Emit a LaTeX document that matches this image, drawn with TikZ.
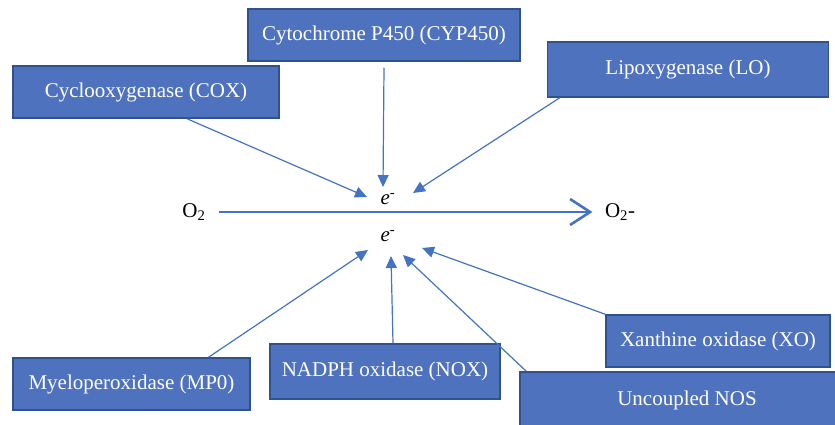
\documentclass[tikz,border=0pt]{standalone}
\usepackage{fontspec}
\setmainfont{Liberation Serif}
\usepackage{xcolor}
\usetikzlibrary{arrows.meta,positioning}

\definecolor{boxblue}{HTML}{4F72BE}
\definecolor{boxedge}{HTML}{2F528F}
\definecolor{arrowblue}{HTML}{4472C4}

\begin{document}
\begin{tikzpicture}[x=1pt,y=-1pt,
  enzyme/.style={draw=boxedge, line width=1.5pt, fill=boxblue, text=white,
    font=\fontsize{21}{25}\selectfont, inner sep=0pt},
  feed/.style={draw=arrowblue, line width=1.2pt, -{Triangle[length=12pt,width=11pt]}},
  lbl/.style={font=\fontsize{21}{25}\selectfont}]
\useasboundingbox (0,0) rectangle (835,425);

% Enzymes above
\node[enzyme, minimum width=266pt, minimum height=52pt] (cox) at (146,92) {Cyclooxygenase (COX)};
\node[enzyme, minimum width=272pt, minimum height=52pt] (cyp) at (384,35) {Cytochrome P450 (CYP450)};
\node[enzyme, minimum width=281pt, minimum height=55pt] (lo) at (688,69.5) {Lipoxygenase (LO)};

% Enzymes below
\node[enzyme, minimum width=237pt, minimum height=52pt] (mpo) at (131.5,384) {Myeloperoxidase (MP0)};
\node[enzyme, minimum width=230pt, minimum height=55pt] (nox) at (385,371.5) {NADPH oxidase (NOX)};
\node[enzyme, minimum width=224pt, minimum height=52pt] (xo) at (718,341) {Xanthine oxidase (XO)};
\node[enzyme, minimum width=334pt, minimum height=56pt] (nos) at (687,400) {Uncoupled NOS};

% Reaction
\node[lbl] (o2) at (194,212) {O\textsubscript{2}};
\node[lbl] (sup) at (620,212) {O\textsubscript{2}-};
\draw[arrowblue, line width=2.6pt, -{Straight Barb[length=20pt,width=26pt,line width=2.6pt]}]
  ([xshift=10pt]o2.east) -- ([xshift=-9pt]sup.west);

% Electrons
\node[lbl] (etop) at (388,199) {\textit{e}\textsuperscript{-}};
\node[lbl] (ebot) at (388,236) {\textit{e}\textsuperscript{-}};

% Arrow tips
\coordinate (tcox) at (367,197);
\coordinate (tcyp) at (383,187);
\coordinate (tlo) at (413,193);
\coordinate (tmpo) at (368,250);
\coordinate (tnox) at (391,256);
\coordinate (tnos) at (403,255);
\coordinate (txo) at (422,248);

\draw[feed] ([xshift=41pt]cox.south) -- (tcox);
\draw[feed] ([yshift=-6pt]cyp.south) -- (tcyp);
\draw[feed] ([xshift=13pt]lo.south west) -- (tlo);
\draw[feed] ([xshift=77pt]mpo.north) -- (tmpo);
\draw[feed] ([xshift=8pt]nox.north) -- (tnox);
\draw[feed] ([xshift=7pt]nos.north west) -- (tnos);
\draw[feed] (xo.north west) -- (txo);
\end{tikzpicture}
\end{document}
